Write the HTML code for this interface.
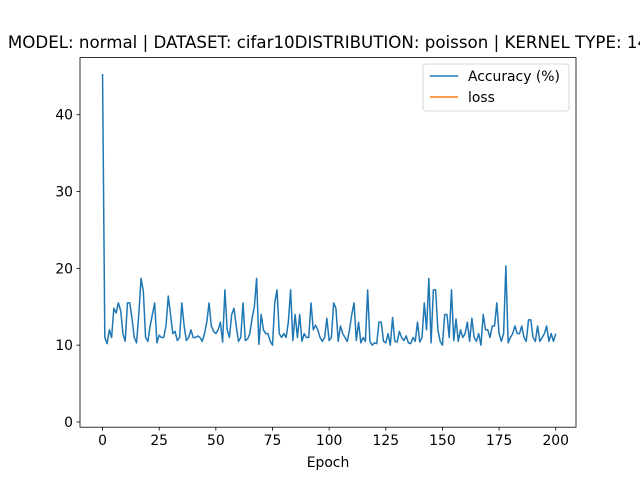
<!DOCTYPE html>
<html><head><meta charset="utf-8"><style>
body{margin:0;background:#fff}
svg{display:block;font-family:"DejaVu Sans","Liberation Sans",sans-serif}
</style></head><body>
<svg id="chart" width="640" height="480">
<rect width="640" height="480" fill="#fff"/>
<text x="328" y="48" text-anchor="middle" font-size="16.67">MODEL: normal | DATASET: cifar10DISTRIBUTION: poisson | KERNEL TYPE: 14</text>
<g id="plot"></g>
<rect x="80" y="57.6" width="496" height="369.6" fill="none" stroke="#000" stroke-width="0.8"/>
<text x="328" y="467" text-anchor="middle" font-size="13.9">Epoch</text>
<g>
<rect x="423" y="64" width="146" height="47" rx="3" fill="#fff" stroke="#ccc" stroke-width="0.8"/>
<line x1="430" y1="76" x2="458" y2="76" stroke="#1f77b4" stroke-width="1.5"/>
<text x="468" y="81" font-size="13.9">Accuracy (%)</text>
<line x1="430" y1="97" x2="458" y2="97" stroke="#ff7f0e" stroke-width="1.5"/>
<text x="468" y="102" font-size="13.9">loss</text>
</g>
</svg>
<script>
const xTicks=[0,25,50,75,100,125,150,175,200];
const yTicks=[0,10,20,30,40];
const accuracy=[45.3,11,10.2,12,11,14.8,14.2,15.5,14.5,11.5,
10.5,15.5,15.5,13.5,11,10.3,14,18.7,17,11,
10.5,12.5,14,15.5,10.3,11.3,11,11,12.5,16.4,
14,11.5,11.8,10.6,11,15.5,12.5,10.6,11,12,
11,11,11.2,11,10.5,11.5,13,15.5,12.5,11.8,
11.5,12,13,10.4,17.2,12,11,14,14.8,12.5,
10.5,11,15.5,10.6,10.8,11.5,13.5,15,18.7,10.1,
14,12,11.5,11.5,10.5,10,15.5,17.2,11.5,11,
11.5,11,13,17.2,10.6,14,11,14,10.5,11.5,
11,11,15.5,12,12.6,12,11,10.5,11,13.5,
10.6,11,15.5,14.8,10.5,12.5,11.5,11,
10.5,12,14,15.5,10.6,13,10.3,
11,10.5,17.2,10.5,10,10.3,10.2,13,13,10.5,
10.3,11.5,10,13.6,10.5,10.4,11.8,11,10.6,11.2,
10.3,10.2,11,10.5,13,10.4,11,15.5,12,18.7,
10.3,17.2,17.2,12,10.5,10,14,14,11,17.2,
10.6,13.4,10.5,12,11,11.5,13,10.5,13.5,11,
10.5,11.5,10,14,12,12,11,12.5,12.5,15.5,
11.5,10.5,11.5,20.3,10.3,11,11.5,12.5,11.5,11.5,
12.5,11,10.5,13.3,13.3,11,10.5,12.5,10.5,11,11.5,
12.5,10.5,11.5,10.5,11.5];
const epochs=accuracy.map((_,i)=>i);
const loss=[1.5];
const NS="http://www.w3.org/2000/svg";
const X0=80,X1=576,Y0=57.6,Y1=427.2;
const xmin=-9.95,xmax=208.95,ymin=-0.68,ymax=47.44;
const xs=v=>X0+(v-xmin)/(xmax-xmin)*(X1-X0);
const ys=v=>Y1-(v-ymin)/(ymax-ymin)*(Y1-Y0);
const g=document.getElementById('plot');
function mk(t,a){const e=document.createElementNS(NS,t);for(const k in a)e.setAttribute(k,a[k]);g.appendChild(e);return e;}
xTicks.forEach(t=>{
 const l=mk('line',{x1:xs(t),x2:xs(t),y1:Y1,y2:Y1+3.5,stroke:'#000','stroke-width':0.8});
 
 
 const s=mk('text',{x:xs(t),y:Y1+18,'text-anchor':'middle','font-size':13.9});
 s.textContent=t;
 
 
});
yTicks.forEach(t=>{
 const l=mk('line',{x1:X0-3.5,x2:X0,y1:ys(t),y2:ys(t),stroke:'#000','stroke-width':0.8});
 
 
 const s=mk('text',{x:X0-7,y:ys(t)+5,'text-anchor':'end','font-size':13.9});
 s.textContent=t;
 
 
});
const p=mk('path',{d:accuracy.map((v,i)=>(i?'L':'M')+xs(epochs[i]).toFixed(2)+','+ys(v).toFixed(2)).join(''),fill:'none',stroke:'#1f77b4','stroke-width':1.5,'stroke-linejoin':'round'});


const q=mk('path',{d:loss.map((v,i)=>(i?'L':'M')+xs(i).toFixed(2)+','+ys(v).toFixed(2)).join(''),fill:'none',stroke:'#ff7f0e','stroke-width':1.5});


</script>
</body></html>
